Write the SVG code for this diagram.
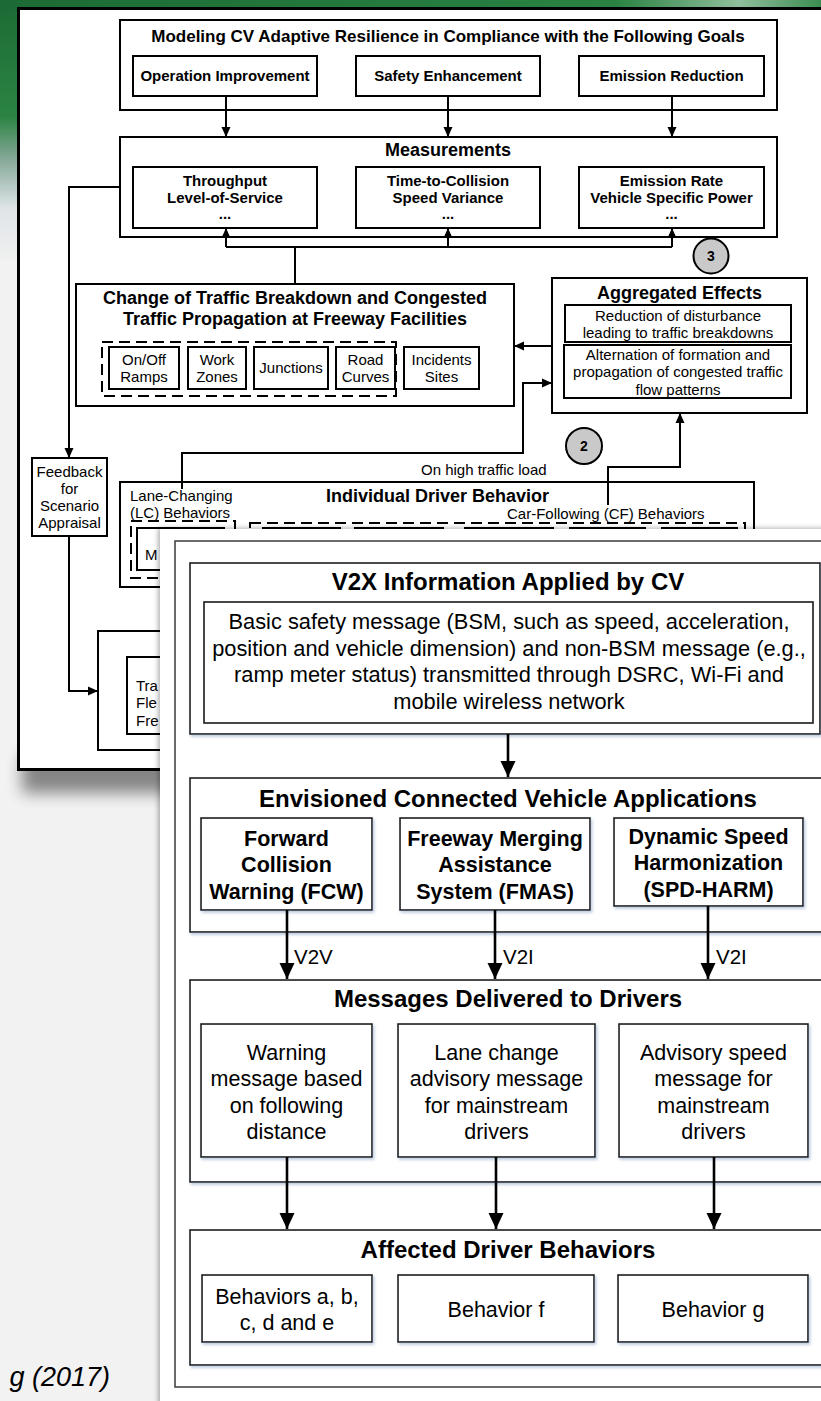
<svg xmlns="http://www.w3.org/2000/svg" width="821" height="1401" viewBox="0 0 821 1401">
<defs>
<style>
text{font-family:"Liberation Sans",Arial,sans-serif;fill:#000}
.m{text-anchor:middle}
.s15{font-size:15px}
.b15{font-size:15px;font-weight:bold}
.b17{font-size:17px;font-weight:bold}
.b18{font-size:18px;font-weight:bold}
.b14{font-size:14px;font-weight:bold}
.b24{font-size:24px;font-weight:bold}
.b21{font-size:21.5px;font-weight:bold}
.n21{font-size:21.5px}
.n22{font-size:21.8px}
.n20{font-size:20.5px}
.k1{fill:#fff;stroke:#000;stroke-width:2}
.d1{fill:none;stroke:#000;stroke-width:2;stroke-dasharray:11 6}
.c1{fill:none;stroke:#000;stroke-width:2}
.k2{fill:#fff;stroke:#1a1a1a;stroke-width:1.6}
.c2{fill:none;stroke:#000;stroke-width:2.6}
.badge{fill:#c9c9c9;stroke:#000;stroke-width:2}
</style>
<marker id="a1" markerUnits="userSpaceOnUse" markerWidth="10" markerHeight="10" refX="10" refY="5" orient="auto"><path d="M0,0.5 L10,5 L0,9.5 z" fill="#000"/></marker>
<marker id="a2" markerUnits="userSpaceOnUse" markerWidth="16" markerHeight="16" refX="16" refY="8" orient="auto"><path d="M0,0.5 L16,8 L0,15.5 z" fill="#000"/></marker>
<linearGradient id="gl" x1="0" y1="0" x2="0" y2="1">
<stop offset="0" stop-color="#1c6a35"/><stop offset="0.45" stop-color="#2b8443"/><stop offset="0.6" stop-color="#7fa592"/><stop offset="0.8" stop-color="#dfe4e8"/><stop offset="1" stop-color="#f0f0f0"/>
</linearGradient>
<linearGradient id="gt" x1="0" y1="0" x2="1" y2="0">
<stop offset="0" stop-color="#1c6a35"/><stop offset="0.75" stop-color="#2a8242"/><stop offset="0.9" stop-color="#8fbf9c"/><stop offset="1" stop-color="#3b8c52"/>
</linearGradient>
<filter id="blur" x="-50%" y="-50%" width="200%" height="200%"><feGaussianBlur stdDeviation="8"/></filter>
<filter id="ov" x="-5%" y="-5%" width="110%" height="110%"><feDropShadow dx="-2" dy="-1" stdDeviation="2.5" flood-color="#000" flood-opacity="0.3"/></filter>
<filter id="bs" x="-5%" y="-5%" width="115%" height="115%"><feDropShadow dx="1.5" dy="2" stdDeviation="1.5" flood-color="#9fb4d0" flood-opacity="0.7"/></filter>
</defs>

<g id="background">
<rect x="0" y="0" width="821" height="1401" fill="#f2f2f2"/>
<rect x="0" y="0" width="20" height="260" fill="url(#gl)"/>
<rect x="0" y="0" width="821" height="10" fill="url(#gt)"/>
<rect x="22" y="755" width="150" height="38" fill="#000" opacity="0.45" filter="url(#blur)"/>
</g>

<g id="card1">
<rect x="18.5" y="8.5" width="840" height="761" fill="#fff" stroke="#000" stroke-width="3"/>
</g>

<g id="diagram1-nodes">
<g id="goals">
<rect class="k1" x="120" y="20" width="657" height="90"/>
<text class="b17 m" x="448" y="42">Modeling CV Adaptive Resilience in Compliance with the Following Goals</text>
<rect class="k1" x="133" y="56" width="184" height="40"/>
<text class="b15 m" x="225" y="81">Operation Improvement</text>
<rect class="k1" x="356" y="56" width="184" height="40"/>
<text class="b15 m" x="448" y="81">Safety Enhancement</text>
<rect class="k1" x="579" y="56" width="185" height="40"/>
<text class="b15 m" x="671.5" y="81">Emission Reduction</text>
</g>
<g id="measurements">
<rect class="k1" x="120" y="137" width="657" height="100"/>
<text class="b18 m" x="448" y="156">Measurements</text>
<rect class="k1" x="133" y="167" width="184" height="61"/>
<text class="b15 m" x="225" y="185.5">Throughput</text>
<text class="b15 m" x="225" y="202.5">Level-of-Service</text>
<text class="b15 m" x="225" y="219">...</text>
<rect class="k1" x="356" y="167" width="184" height="61"/>
<text class="b15 m" x="448" y="185.5">Time-to-Collision</text>
<text class="b15 m" x="448" y="202.5">Speed Variance</text>
<text class="b15 m" x="448" y="219">...</text>
<rect class="k1" x="579" y="167" width="185" height="61"/>
<text class="b15 m" x="671.5" y="185.5">Emission Rate</text>
<text class="b15 m" x="671.5" y="202.5">Vehicle Specific Power</text>
<text class="b15 m" x="671.5" y="219">...</text>
</g>
<g id="change">
<rect class="k1" x="76" y="284" width="438" height="122"/>
<text class="b18 m" x="295" y="303.5">Change of Traffic Breakdown and Congested</text>
<text class="b18 m" x="295" y="324.5">Traffic Propagation at Freeway Facilities</text>
<rect class="d1" x="102" y="342" width="294" height="54"/>
<rect class="k1" x="109" y="347" width="70" height="42"/>
<text class="s15 m" x="144" y="364.5">On/Off</text>
<text class="s15 m" x="144" y="381.5">Ramps</text>
<rect class="k1" x="188" y="347" width="58" height="42"/>
<text class="s15 m" x="217" y="364.5">Work</text>
<text class="s15 m" x="217" y="381.5">Zones</text>
<rect class="k1" x="254" y="347" width="74" height="42"/>
<text class="s15 m" x="291" y="372.5">Junctions</text>
<rect class="k1" x="336" y="347" width="59" height="42"/>
<text class="s15 m" x="365.5" y="364.5">Road</text>
<text class="s15 m" x="365.5" y="381.5">Curves</text>
<rect class="k1" x="404" y="347" width="75" height="42"/>
<text class="s15 m" x="441.5" y="364.5">Incidents</text>
<text class="s15 m" x="441.5" y="381.5">Sites</text>
</g>
<g id="aggregated">
<rect class="k1" x="552" y="278" width="255" height="135"/>
<text class="b18 m" x="679.5" y="298.5">Aggregated Effects</text>
<rect class="k1" x="565" y="305" width="226" height="37"/>
<text class="s15 m" x="678" y="320.5">Reduction of disturbance</text>
<text class="s15 m" x="678" y="337.5">leading to traffic breakdowns</text>
<rect class="k1" x="564" y="345" width="227" height="53"/>
<text class="s15 m" x="678" y="359.5">Alternation of formation and</text>
<text class="s15 m" x="678" y="377">propagation of congested traffic</text>
<text class="s15 m" x="678" y="394.5">flow patterns</text>
</g>
<g id="badge3">
<circle class="badge" cx="711" cy="256" r="17.5"/>
<text class="b14 m" x="711" y="261">3</text>
</g>
<g id="badge2">
<circle class="badge" cx="584" cy="446" r="18"/>
<text class="b14 m" x="584" y="451">2</text>
</g>
<g id="feedback">
<rect class="k1" x="32" y="458" width="75" height="78"/>
<text class="s15 m" x="69.5" y="477">Feedback</text>
<text class="s15 m" x="69.5" y="494">for</text>
<text class="s15 m" x="69.5" y="511">Scenario</text>
<text class="s15 m" x="69.5" y="528">Appraisal</text>
</g>
<g id="individual">
<rect class="k1" x="120" y="482" width="634" height="105"/>
<text class="b18 m" x="437.5" y="501.5">Individual Driver Behavior</text>
<text class="s15" x="130" y="500.5">Lane-Changing</text>
<text class="s15" x="130" y="517.5">(LC) Behaviors</text>
<text class="s15" x="507" y="518.5">Car-Following (CF) Behaviors</text>
<rect class="d1" x="131" y="521" width="104" height="57"/>
<rect class="k1" x="137" y="528" width="87" height="42"/>
<text class="s15" x="145" y="560">M</text>
<rect class="d1" x="250" y="523" width="495" height="60"/>
<rect class="k1" x="263" y="528" width="77" height="45"/>
<rect class="k1" x="355" y="528" width="88" height="45"/>
<rect class="k1" x="465" y="528" width="88" height="45"/>
<rect class="k1" x="570" y="528" width="75" height="45"/>
<rect class="k1" x="662" y="528" width="75" height="45"/>
</g>
<g id="traffic">
<rect class="k1" x="98" y="631" width="200" height="119"/>
<rect class="k1" x="127" y="657" width="150" height="77"/>
<text class="s15" x="136" y="691">Tra</text>
<text class="s15" x="136" y="708">Fle</text>
<text class="s15" x="136" y="726">Fre</text>
</g>
<text id="load-label" class="s15" x="421" y="475">On high traffic load</text>
</g>

<g id="diagram1-connectors">
<path class="c1" d="M226,96 V137" marker-end="url(#a1)"/>
<path class="c1" d="M448,96 V137" marker-end="url(#a1)"/>
<path class="c1" d="M672,96 V137" marker-end="url(#a1)"/>
<path class="c1" d="M226,247 H672"/>
<path class="c1" d="M226,247 V228" marker-end="url(#a1)"/>
<path class="c1" d="M448,247 V228" marker-end="url(#a1)"/>
<path class="c1" d="M672,247 V228" marker-end="url(#a1)"/>
<path class="c1" d="M295,247 V284"/>
<path class="c1" d="M120,187 H69 V458" marker-end="url(#a1)"/>
<path class="c1" d="M69,536 V691 H98" marker-end="url(#a1)"/>
<path class="c1" d="M552,346 H514" marker-end="url(#a1)"/>
<path class="c1" d="M182,489 V453 H523 V383 H552" marker-end="url(#a1)"/>
<path class="c1" d="M608,505 V467 H680 V413" marker-end="url(#a1)"/>
</g>

<g id="card2">
<rect x="160" y="529" width="700" height="900" fill="#fff" filter="url(#ov)"/>
<rect x="175" y="541" width="670" height="846" fill="none" stroke="#3a3a3a" stroke-width="1.5"/>
</g>

<g id="diagram2-nodes">
<g id="v2x">
<rect class="k2" x="190" y="563" width="630" height="171" filter="url(#bs)"/>
<text class="b24 m" x="508" y="589.5">V2X Information Applied by CV</text>
<rect class="k2" x="204" y="602" width="609" height="121"/>
<text class="n22 m" x="509" y="628.6">Basic safety message (BSM, such as speed, acceleration,</text>
<text class="n22 m" x="509" y="655.6">position and vehicle dimension) and non-BSM message (e.g.,</text>
<text class="n22 m" x="509" y="682">ramp meter status) transmitted through DSRC, Wi-Fi and</text>
<text class="n22 m" x="509" y="708.6">mobile wireless network</text>
</g>
<g id="applications">
<rect class="k2" x="190" y="778" width="634" height="154" filter="url(#bs)"/>
<text class="b24 m" x="508" y="806.5">Envisioned Connected Vehicle Applications</text>
<g id="fcw">
<rect class="k2" x="201" y="818" width="171" height="92" filter="url(#bs)"/>
<text class="b21 m" x="286.5" y="845.5">Forward</text>
<text class="b21 m" x="286.5" y="871.5">Collision</text>
<text class="b21 m" x="286.5" y="898.5">Warning (FCW)</text>
</g>
<g id="fmas">
<rect class="k2" x="400" y="818" width="190" height="92" filter="url(#bs)"/>
<text class="b21 m" x="495" y="845.5">Freeway Merging</text>
<text class="b21 m" x="495" y="871.5">Assistance</text>
<text class="b21 m" x="495" y="898.5">System (FMAS)</text>
</g>
<g id="spd">
<rect class="k2" x="614" y="818" width="189" height="88" filter="url(#bs)"/>
<text class="b21 m" x="708.5" y="843.5">Dynamic Speed</text>
<text class="b21 m" x="708.5" y="869.5">Harmonization</text>
<text class="b21 m" x="708.5" y="896.5">(SPD-HARM)</text>
</g>
</g>
<g id="messages">
<rect class="k2" x="190" y="980" width="634" height="202" filter="url(#bs)"/>
<text class="b24 m" x="508" y="1006.5">Messages Delivered to Drivers</text>
<g id="msg-warning">
<rect class="k2" x="201" y="1024" width="171" height="133" filter="url(#bs)"/>
<text class="n21 m" x="286.5" y="1059.5">Warning</text>
<text class="n21 m" x="286.5" y="1085.5">message based</text>
<text class="n21 m" x="286.5" y="1112.5">on following</text>
<text class="n21 m" x="286.5" y="1138.5">distance</text>
</g>
<g id="msg-lane">
<rect class="k2" x="398" y="1024" width="197" height="133" filter="url(#bs)"/>
<text class="n21 m" x="496.5" y="1059.5">Lane change</text>
<text class="n21 m" x="496.5" y="1085.5">advisory message</text>
<text class="n21 m" x="496.5" y="1112.5">for mainstream</text>
<text class="n21 m" x="496.5" y="1138.5">drivers</text>
</g>
<g id="msg-speed">
<rect class="k2" x="619" y="1024" width="189" height="133" filter="url(#bs)"/>
<text class="n21 m" x="713.5" y="1059.5">Advisory speed</text>
<text class="n21 m" x="713.5" y="1085.5">message for</text>
<text class="n21 m" x="713.5" y="1112.5">mainstream</text>
<text class="n21 m" x="713.5" y="1138.5">drivers</text>
</g>
</g>
<g id="affected">
<rect class="k2" x="190" y="1230" width="634" height="135" filter="url(#bs)"/>
<text class="b24 m" x="508" y="1257.5">Affected Driver Behaviors</text>
<g id="beh-ae">
<rect class="k2" x="202" y="1275" width="170" height="67" filter="url(#bs)"/>
<text class="n21 m" x="287" y="1303.5">Behaviors a, b,</text>
<text class="n21 m" x="287" y="1329.5">c, d and e</text>
</g>
<g id="beh-f">
<rect class="k2" x="398" y="1275" width="196" height="67" filter="url(#bs)"/>
<text class="n21 m" x="496" y="1316.5">Behavior f</text>
</g>
<g id="beh-g">
<rect class="k2" x="618" y="1275" width="190" height="67" filter="url(#bs)"/>
<text class="n21 m" x="713" y="1316.5">Behavior g</text>
</g>
</g>
</g>

<g id="diagram2-connectors">
<path class="c2" d="M508,734 V777" marker-end="url(#a2)"/>
<path class="c2" d="M287,910 V979" marker-end="url(#a2)"/>
<path class="c2" d="M495,910 V979" marker-end="url(#a2)"/>
<path class="c2" d="M708,906 V979" marker-end="url(#a2)"/>
<text class="n20" x="294" y="964">V2V</text>
<text class="n20" x="503" y="964">V2I</text>
<text class="n20" x="716" y="964">V2I</text>
<path class="c2" d="M287,1157 V1229" marker-end="url(#a2)"/>
<path class="c2" d="M496,1157 V1229" marker-end="url(#a2)"/>
<path class="c2" d="M714,1157 V1229" marker-end="url(#a2)"/>
</g>

<text id="caption" x="110" y="1386" text-anchor="end" style="font-size:27px;font-style:italic">g (2017)</text>
</svg>
